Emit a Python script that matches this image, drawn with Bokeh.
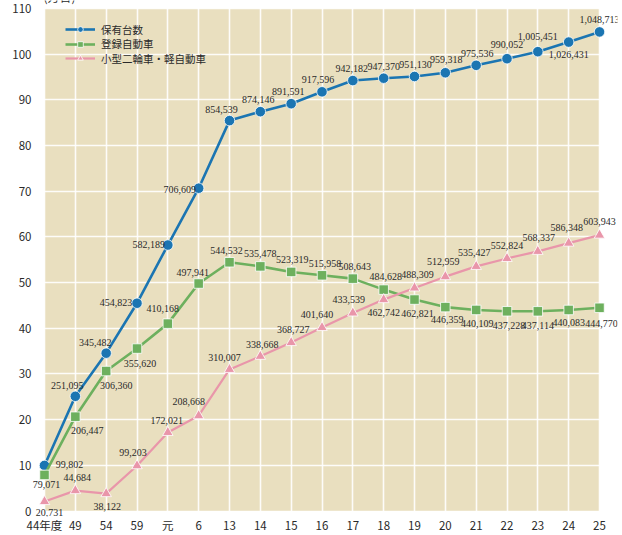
from bokeh.plotting import figure
from bokeh.models import (Range1d, FixedTicker, Legend, LegendItem,
                          ColumnDataSource, Label, BoxAnnotation)
from bokeh.embed import file_html
from bokeh.resources import INLINE

# ---- data (台) ----
categories = ["44年度", "49", "54", "59", "元", "6", "13", "14", "15", "16",
              "17", "18", "19", "20", "21", "22", "23", "24", "25"]
total = [99802, 251095, 345482, 454823, 582189, 706609, 854539, 874146, 891591,
         917596, 942182, 947370, 951130, 959318, 975536, 990052, 1005451,
         1026431, 1048713]
registered = [79071, 206447, 306360, 355620, 410168, 497941, 544532, 535478,
              523319, 515958, 508643, 484628, 462821, 446359, 440109, 437228,
              437114, 440083, 444770]
small = [20731, 44684, 38122, 99203, 172021, 208668, 310007, 338668, 368727,
         401640, 433539, 462742, 488309, 512959, 535427, 552824, 568337,
         586348, 603943]
series_names = ["保有台数", "登録自動車", "小型二輪車・軽自動車"]
y_ticks = list(range(0, 111, 10))
y_max = 110
unit_label = "(万台)"
unit = 10000  # 万台

# ---- label offsets (style, screen px; dy positive = down) ----
total_dx = [25, -8, -11, -21, -19, -19, -8, -2, -3, -4, -1, 0, 1, 1, 1, 0, 0, 0, 0]
total_dy = [-1, -11, -11, -1, -1, 1, -11, -12, -12, -12, -12, -12, -12, -13, -12, -14, -15, 12, -12]
reg_dx = [2, 12, 10, 3, -5, -6, -3, 0, 1, 3, 2, 2, 3, 2, 1, 2, 0, 0, 2]
reg_dy = [10, 14, 14, 15, -15, -11, -12, -13, -12, -12, -12, -13, 14, 12, 14, 14, 14, 13, 16]
small_dx = [5, 2, 1, -4, -1, -10, -5, 2, 2, -5, -4, 0, 3, -2, -2, 0, 1, -2, 0]
small_dy = [11, -13, 13, -13, -12, -14, -12, -12, -13, -13, -13, 13, -13, -15, -14, -13, -14, -16, -14]

BLUE = "#1B75B2"
GREEN = "#6DB05E"
PINK = "#E996AA"
BG = "#E9DFBF"
TXT = "#2A2A2A"
CJK = "Noto Sans CJK JP"
NARROW = "Liberation Sans Narrow"

# ---- layout (px): beige plot area vs. a slightly larger, unclipped frame ----
W, H = 622, 535
area_l, area_r, area_t, area_b = 44, 599, 8, 512.5
frame_l, frame_r, frame_t, frame_b = 32, 617, 0, 518

xs = list(range(len(categories)))
n = len(categories) - 1
px_x = (area_r - area_l) / n
px_y = (area_b - area_t) / y_max
x_range = Range1d(-(area_l - frame_l) / px_x, n + (frame_r - area_r) / px_x)
y_range = Range1d(-(frame_b - area_b) / px_y, y_max + (area_t - frame_t) / px_y)

p = figure(width=W, height=H, output_backend="svg", toolbar_location=None,
           x_range=x_range, y_range=y_range,
           min_border_left=frame_l, min_border_right=W - frame_r,
           min_border_top=frame_t, min_border_bottom=H - frame_b)
p.background_fill_color = "white"
p.border_fill_color = "white"
p.outline_line_color = None

p.add_layout(BoxAnnotation(left=0, right=n, bottom=0, top=y_max,
                           fill_color=BG, fill_alpha=1, line_color=None,
                           level="image"))

for ax in (p.xaxis[0], p.yaxis[0]):
    ax.axis_line_color = None
    ax.major_tick_line_color = None
    ax.minor_tick_line_color = None
    ax.major_tick_out = 0
    ax.major_tick_in = 0
    ax.major_label_text_font = CJK
    ax.major_label_text_font_size = "11.5px"
    ax.major_label_text_color = TXT

p.xaxis.ticker = FixedTicker(ticks=xs)
p.xaxis.major_label_overrides = {i: c for i, c in enumerate(categories)}
p.xaxis.major_label_standoff = 0
p.yaxis.ticker = FixedTicker(ticks=y_ticks)
p.yaxis.major_label_standoff = 1

p.xgrid.ticker = FixedTicker(ticks=xs)
p.ygrid.ticker = FixedTicker(ticks=y_ticks)
for g in (p.xgrid[0], p.ygrid[0]):
    g.grid_line_color = "white"
    g.grid_line_width = 1.6
    g.grid_line_alpha = 0.9

specs = [
    (total, BLUE, "circle", 10.5, 2.6, total_dx, total_dy),
    (registered, GREEN, "square", 9.5, 2.6, reg_dx, reg_dy),
    (small, PINK, "triangle", 10.5, 2.2, small_dx, small_dy),
]
items = []
for name, (vals, col, mk, sz, lw, dx, dy) in zip(series_names, specs):
    src = ColumnDataSource(dict(x=xs, y=[v / unit for v in vals]))
    ln = p.line("x", "y", source=src, line_color=col, line_width=lw)
    sc = p.scatter("x", "y", source=src, marker=mk, size=sz, fill_color=col,
                   line_color="white", line_width=0.8)
    items.append(LegendItem(label=name, renderers=[ln, sc]))
    for xi, v, ox, oy in zip(xs, vals, dx, dy):
        p.add_layout(Label(x=xi, y=v / unit, text=f"{v:,}",
                           x_offset=ox, y_offset=-oy,
                           text_align="center", text_baseline="middle",
                           text_font=NARROW, text_font_size="10px",
                           text_color=TXT))

# legends: one per row so rows sit 14.5px apart
leg_x = 65 - frame_l
row_y = [frame_b - 38.5, frame_b - 53, frame_b - 67.5]
for item, ry in zip(items, row_y):
    lg = Legend(items=[item], location=(leg_x, ry), margin=0, padding=0,
                spacing=0, glyph_width=30, glyph_height=14, label_height=14,
                label_standoff=6, label_text_font=CJK,
                label_text_font_size="10.5px", label_text_color=TXT,
                background_fill_alpha=0, border_line_alpha=0)
    p.add_layout(lg)

p.add_layout(Label(x=0, y=y_max, text=unit_label, x_offset=-1, y_offset=3,
                   text_align="left", text_baseline="bottom",
                   text_font=CJK, text_font_size="12px", text_color=TXT))

open("out.html", "w").write(file_html(p, INLINE))
